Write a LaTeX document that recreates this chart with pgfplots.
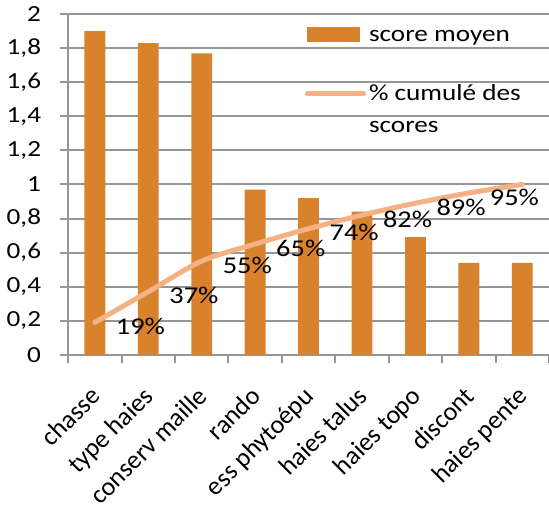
\documentclass[border=0pt]{standalone}
\usepackage{fontspec}
\setmainfont{Carlito}[FakeStretch=1.18]
\newfontfamily\xlab{Carlito}
\usepackage{pgfplots}
\pgfplotsset{compat=1.18}

\definecolor{barorange}{RGB}{217,130,46}
\definecolor{cumline}{RGB}{244,177,131}
\definecolor{gridgray}{RGB}{150,150,150}

\begin{document}
\begin{tikzpicture}[trim axis right]
\begin{axis}[
    scale only axis,
    width=240pt, height=170pt,
    xmin=-0.5, xmax=8.5,
    ymin=0, ymax=2,
    axis x line*=bottom, axis y line*=left,
    axis line style={-, gridgray, line width=1pt},
    tick style={gridgray, line width=1pt},
    tick align=outside,
    major tick length=4pt,
    ytick={0,0.2,0.4,0.6,0.8,1,1.2,1.4,1.6,1.8,2},
    ymajorgrids=true,
    grid style={gridgray, line width=1pt},
    /pgf/number format/.cd, use comma, fixed, precision=1, assume math mode=true,
    /pgfplots/.cd,
    yticklabel style={font=\fontsize{11.5}{14}\selectfont, xshift=-6pt},
    xtick={-0.5,0.5,...,8.5},
    xticklabels={},
    extra x ticks={0,1,2,3,4,5,6,7,8},
    extra x tick labels={chasse, type haies, conserv maille, rando, ess phytoépu, haies talus, haies topo, discont, haies pente},
    extra x tick style={major tick length=0pt},
    xticklabel style={font=\xlab\fontsize{13}{15}\selectfont, xshift=-3pt, yshift=-12pt, rotate=45, anchor=north east, inner sep=2pt},
    legend style={at={(0.5,1)}, anchor=north west, xshift=-5pt, yshift=-4pt, draw=none, fill=none,
        font=\fontsize{11.5}{16}\selectfont, row sep=16pt,
        nodes={inner xsep=1.5pt},
        cells={anchor=base west, align=left}},
]
\addplot[ybar, fill=barorange, draw=none, bar width=0.39,
    legend image code/.code={\fill[barorange] (0pt,0pt) rectangle (26pt,7.5pt);}]
    coordinates {(0,1.90) (1,1.83) (2,1.77) (3,0.97) (4,0.92) (5,0.84) (6,0.69) (7,0.54) (8,0.54)};
\addlegendentry{score moyen}
\addplot[cumline, line width=2.5pt, line cap=round, smooth,
    legend image code/.code={\draw[cumline, line width=2.5pt, line cap=round] (0pt,19.5pt) -- (28pt,19.5pt);}]
    coordinates {(0,0.19) (1,0.37) (2,0.55) (3,0.65) (4,0.74) (5,0.82) (6,0.89) (7,0.95) (8,1.00)};
\addlegendentry{\% cumulé des\\scores}
\addplot[draw=none, forget plot,
    nodes near coords, point meta=explicit symbolic,
    every node near coord/.append style={anchor=west, xshift=7pt, yshift=-2pt, text=black, font=\fontsize{12}{15}\selectfont}]
    coordinates {(0,0.19) [19\%] (1,0.37) [37\%] (2,0.55) [55\%] (3,0.65) [65\%] (4,0.74) [74\%] (5,0.82) [82\%] (6,0.89) [89\%] (7,0.95) [95\%]};
\end{axis}
\end{tikzpicture}
\end{document}
